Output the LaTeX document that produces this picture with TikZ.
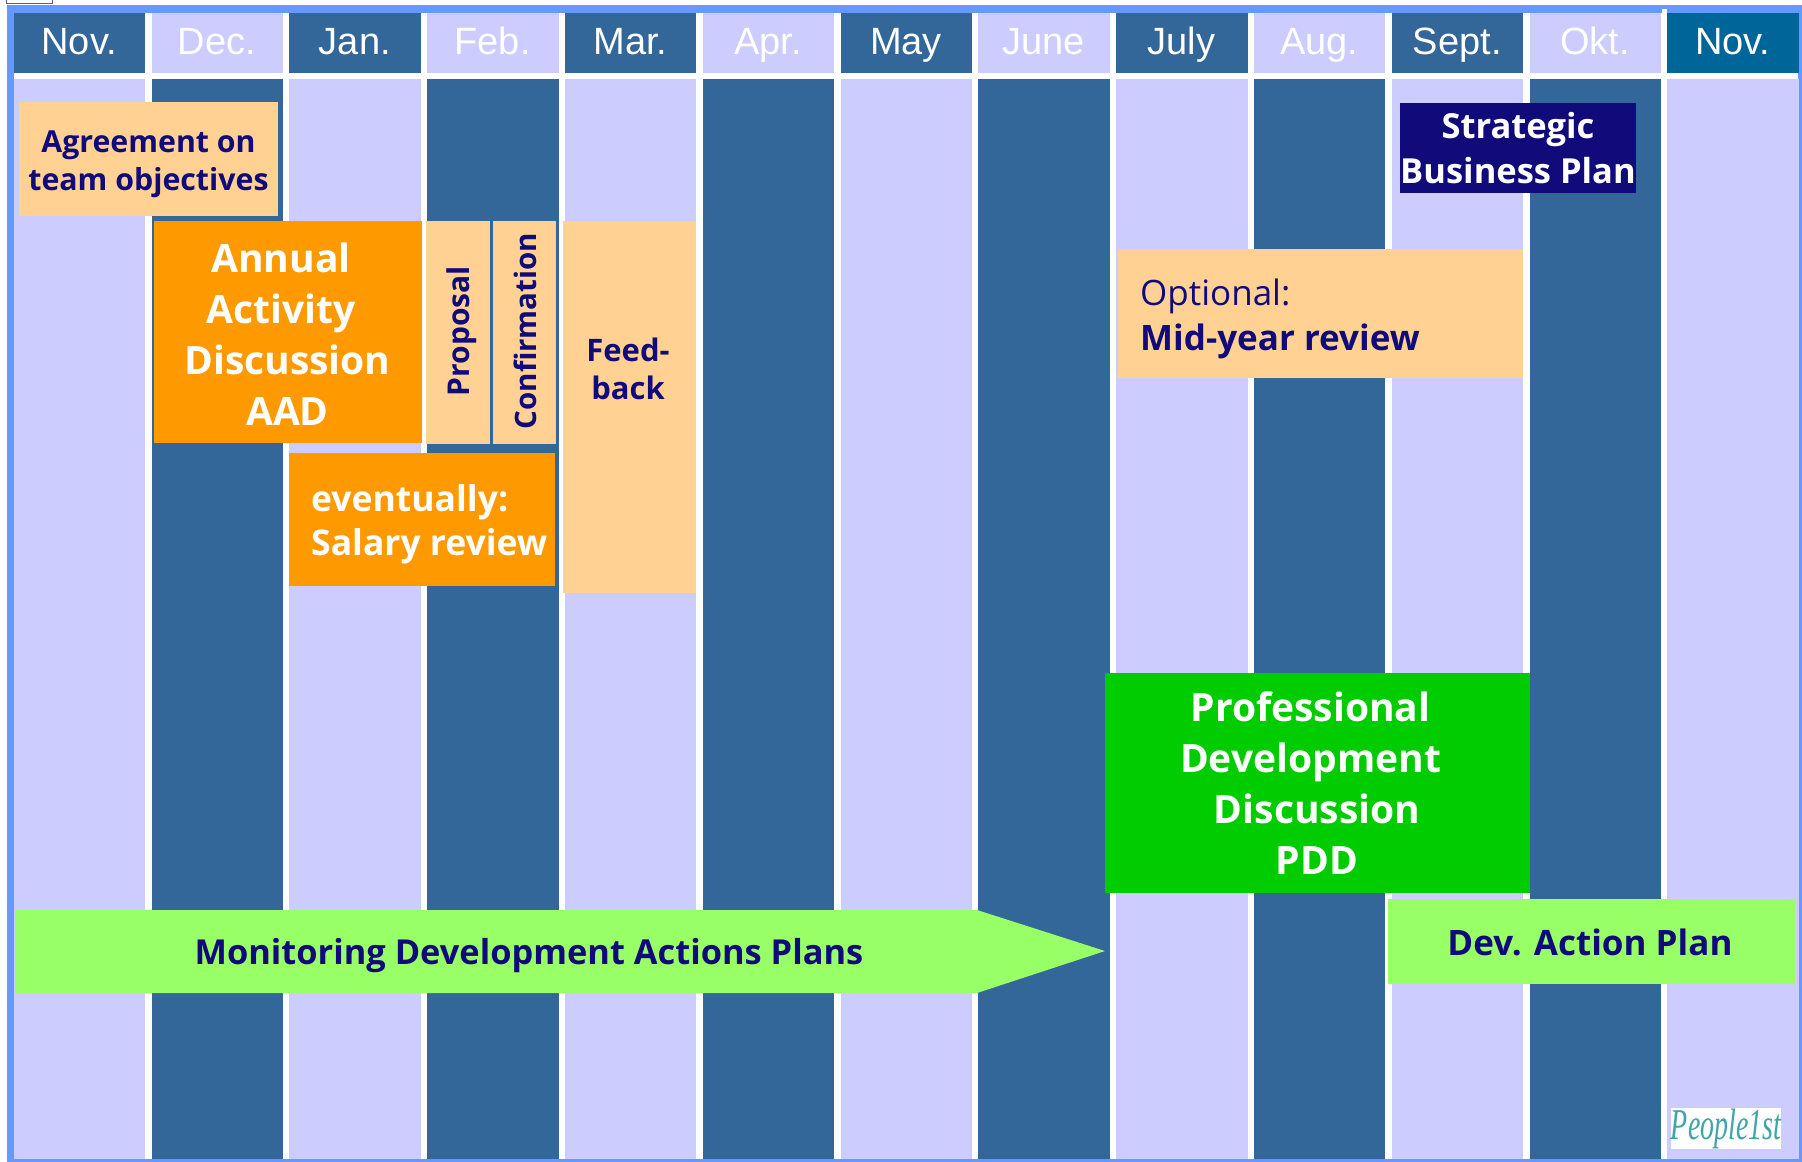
\documentclass[tikz,border=0pt]{standalone}
\usepackage{fontspec}
\setmainfont{Open Sans}
\newfontfamily\hdfont{Liberation Sans}
\newfontfamily\logofont{Liberation Serif}
\definecolor{frameblue}{HTML}{6699FF}
\definecolor{darkcol}{HTML}{336699}
\definecolor{lightcol}{HTML}{CCCCFF}
\definecolor{lastcol}{HTML}{006699}
\definecolor{peach}{HTML}{FFD293}
\definecolor{orangebox}{HTML}{FF9900}
\definecolor{navytext}{HTML}{110A7A}
\definecolor{greenbox}{HTML}{00CC00}
\definecolor{limebox}{HTML}{99FF66}
\definecolor{logoteal}{HTML}{3FA6A8}
\tikzset{
  x=1pt,y=-1pt,
  hdtext/.style={text=white,font=\hdfont\fontsize{38}{38}\selectfont,inner sep=0pt,anchor=base},
  bluetext/.style={text=navytext,font=\fontsize{30.3}{38}\selectfont\bfseries,inner sep=0pt,align=center},
  blueplain/.style={text=navytext,inner sep=0pt,align=left},
  whitetext/.style={text=white,font=\fontsize{39}{51}\selectfont\bfseries,inner sep=0pt,align=center},
  whitemid/.style={text=white,font=\fontsize{34.5}{44.5}\selectfont\bfseries,inner sep=0pt},
}
\begin{document}
\begin{tikzpicture}
\useasboundingbox (0,0) rectangle (1802,1162);
\fill[white] (0,0) rectangle (1802,1162);
\draw[gray!70!blue,line width=1pt] (6,3.5) -- (6,0) (52,0) -- (52,3.5) -- (6,3.5);
\fill[frameblue] (7,5) rectangle (1802,1162);
\fill[white] (14,13) rectangle (1798,1159);
% columns
\foreach \i/\m/\hc/\bc in {0/Nov./darkcol/lightcol,1/Dec./lightcol/darkcol,2/Jan./darkcol/lightcol,3/Feb./lightcol/darkcol,4/Mar./darkcol/lightcol,5/Apr./lightcol/darkcol,6/May/darkcol/lightcol,7/June/lightcol/darkcol,8/July/darkcol/lightcol,9/Aug./lightcol/darkcol,10/Sept./darkcol/lightcol,11/Okt./lightcol/darkcol,12/Nov./lastcol/lightcol}{
  \pgfmathsetmacro{\xl}{13.7+137.8*\i}
  \pgfmathsetmacro{\xr}{\xl+131.4}
  \fill[\hc] (\xl,13) rectangle (\xr,72.5);
  \fill[\bc] (\xl,78.5) rectangle (\xr,1159);
  \node[hdtext] (hd\i) at ({\xl+65.5},54.5) {\m};
}
\fill[white] (1662,9) rectangle (1667,13);
% boxes
\fill[peach] (19,102) rectangle (278,216);
\node[bluetext] (agree) at (148.5,164.5) {Agreement on\\team objectives};
\fill[orangebox] (154,221) rectangle (422,443);
\node[whitetext] (aad) at (287.5,334) {\hspace*{-13pt}Annual\\\hspace*{-13pt}Activity\\Discussion\\AAD};
\fill[peach] (426,221) rectangle (490,444);
\node[bluetext,rotate=90,font=\fontsize{30}{40}\selectfont\bfseries] (prop) at (462,331) {Proposal};
\fill[peach] (493,221) rectangle (556,444);
\node[bluetext,rotate=90,font=\fontsize{29.5}{40}\selectfont\bfseries] (conf) at (525,331) {Confirmation};
\fill[peach] (563,221) rectangle (696,593);
\node[bluetext,font=\fontsize{31}{38}\selectfont\bfseries] (feed) at (628,369) {Feed-\\back};
\fill[orangebox] (289,453) rectangle (555,586);
\node[whitemid,align=left,anchor=west,font=\fontsize{35.5}{44.5}\selectfont\bfseries] (salary) at (311,524.5) {eventually:\\Salary review};
\fill[peach] (1118,249) rectangle (1523,378);
\node[blueplain,anchor=west,font=\fontsize{35}{44.5}\selectfont] (mid) at (1140,319) {Optional:\\\textbf{Mid-year review}};
\fill[navytext] (1400,103) rectangle (1636,193);
\node[whitemid,align=center] (sbp) at (1518,148) {Strategic\\Business Plan};
\fill[greenbox] (1105,673) rectangle (1530,893);
\node[whitetext] (pdd) at (1317,783) {\hspace*{-13pt}Professional\\\hspace*{-13pt}Development\\Discussion\\PDD};
\fill[limebox] (15,910) -- (977,910) -- (1105,951) -- (977,993) -- (15,993) -- cycle;
\node[bluetext,font=\fontsize{34.4}{44}\selectfont\bfseries] (mon) at (529,955.5) {Monitoring Development Actions Plans};
\fill[limebox] (1388,899) rectangle (1795,984);
\node[bluetext,font=\fontsize{35}{44}\selectfont\bfseries] (dev) at (1590,942) {Dev. Action Plan};
\fill[white] (1671,1108) rectangle (1781,1149);
\node[text=logoteal,inner sep=0pt,font=\logofont\itshape\fontsize{44}{44}\selectfont,xscale=0.635] (logo) at (1726,1129) {People1st};
\end{tikzpicture}
\end{document}
